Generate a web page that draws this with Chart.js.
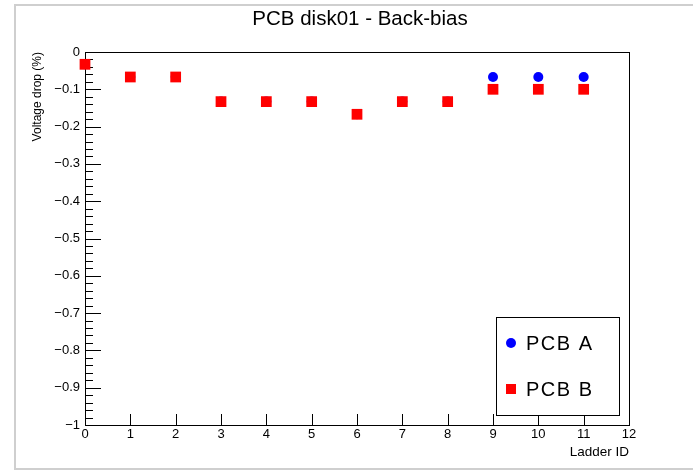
<!DOCTYPE html>
<html>
<head>
<meta charset="utf-8">
<script src="https://cdn.jsdelivr.net/npm/chart.js@4/dist/chart.umd.min.js"></script>
<style>
  body { margin: 0; background: #fff; }
  #wrap { width: 693px; height: 471px; }
</style>
</head>
<body>
<div id="wrap"><canvas id="graph" width="693" height="471"></canvas></div>
<script>
// ladder IDs and voltage drop (%) per PCB
var ladders = [0, 1, 2, 3, 4, 5, 6, 7, 8, 9, 10, 11];
var pcbA = [-0.033, -0.067, -0.067, -0.133, -0.133, -0.133, -0.167, -0.133, -0.133, -0.067, -0.067, -0.067];
var pcbB = [-0.033, -0.067, -0.067, -0.133, -0.133, -0.133, -0.167, -0.133, -0.133, -0.1, -0.1, -0.1];
var seriesNames = ["PCB A", "PCB B"];
var chartTitle = "PCB disk01 - Back-bias";

var FONT = "'Liberation Sans', Arial, Helvetica, sans-serif";

function toPoints(vals) {
  var pts = [];
  for (var i = 0; i < ladders.length; i++) {
    pts.push({ x: ladders[i], y: vals[i] });
  }
  return pts;
}

function fmtY(v) {
  var r = Math.round(v * 10) / 10;
  if (r === 0) return "0";
  var s = (Math.abs(r) === 1) ? "1" : Math.abs(r).toFixed(1);
  return (r < 0 ? "\u2212" : "") + s;
}

// ROOT-like pad: outer border, title, frame, inward ticks and legend box
var rootStyle = {
  id: "rootStyle",
  beforeDraw: function (chart) {
    var ctx = chart.ctx;
    ctx.save();
    ctx.strokeStyle = "#cfcfcf";
    ctx.lineWidth = 2;
    ctx.strokeRect(15, 5, 700, 464);
    ctx.fillStyle = "#000";
    ctx.font = "20.5px " + FONT;
    ctx.textAlign = "center";
    ctx.textBaseline = "middle";
    ctx.fillText(chartTitle, 360, 19.5);
    ctx.restore();
  },
  beforeDatasetsDraw: function (chart) {
    var ctx = chart.ctx;
    var a = chart.chartArea;
    var xs = chart.scales.x, ys = chart.scales.y;
    ctx.save();
    ctx.strokeStyle = "#000";
    ctx.lineWidth = 1;
    ctx.strokeRect(Math.round(a.left) + 0.5, Math.round(a.top) + 0.5,
      Math.round(a.right - a.left), Math.round(a.bottom - a.top));
    ctx.beginPath();
    // x major ticks
    for (var i = 0; i <= 12; i++) {
      var px = Math.round(xs.getPixelForValue(i)) + 0.5;
      ctx.moveTo(px, a.bottom);
      ctx.lineTo(px, a.bottom - 11);
    }
    // y major / minor ticks
    for (var k = 0; k <= 50; k++) {
      var v = -k * 0.02;
      var py = Math.round(ys.getPixelForValue(v)) + 0.5;
      var len = (k % 5 === 0) ? 16 : 8;
      ctx.moveTo(a.left, py);
      ctx.lineTo(a.left + len, py);
    }
    ctx.stroke();
    ctx.restore();
  },
  afterDraw: function (chart) {
    var ctx = chart.ctx;
    var ds = chart.data.datasets;
    ctx.save();
    ctx.fillStyle = "#fff";
    ctx.fillRect(496, 317, 123, 98);
    ctx.strokeStyle = "#000";
    ctx.lineWidth = 1;
    ctx.strokeRect(496.5, 317.5, 123, 98);
    ctx.font = "20px " + FONT;
    ctx.letterSpacing = "1.5px";
    ctx.textBaseline = "middle";
    var rows = [343, 389];
    for (var i = 0; i < seriesNames.length; i++) {
      var d = ds[i];
      var mx = 511, my = rows[i];
      ctx.fillStyle = d.backgroundColor;
      if (d.pointStyle === "rect") {
        ctx.fillRect(mx - 5, my - 5, 10, 10);
      } else {
        ctx.beginPath();
        ctx.arc(mx, my, 5, 0, Math.PI * 2);
        ctx.fill();
      }
      ctx.fillStyle = "#000";
      ctx.fillText(d.label, 526, my + 1);
    }
    ctx.restore();
  }
};

new Chart(document.getElementById("graph"), {
  type: "scatter",
  data: {
    datasets: [
      {
        label: seriesNames[0],
        data: toPoints(pcbA),
        pointStyle: "circle",
        pointRadius: 5,
        backgroundColor: "#0000ff",
        borderColor: "#0000ff",
        borderWidth: 0,
        order: 1,
        clip: false
      },
      {
        label: seriesNames[1],
        data: toPoints(pcbB),
        pointStyle: "rect",
        pointRadius: 7.6,
        backgroundColor: "#ff0000",
        borderColor: "#ff0000",
        borderWidth: 0,
        order: 0,
        clip: false
      }
    ]
  },
  options: {
    responsive: false,
    animation: false,
    events: [],
    layout: { padding: { left: 0, right: 64, top: 52, bottom: 0 } },
    plugins: {
      legend: { display: false },
      tooltip: { enabled: false },
      title: { display: false }
    },
    scales: {
      x: {
        type: "linear",
        min: 0,
        max: 12,
        grid: { display: false, drawTicks: false },
        border: { display: false },
        ticks: {
          stepSize: 1,
          autoSkip: false,
          maxRotation: 0,
          padding: 2,
          color: "#000",
          font: { family: FONT, size: 13 }
        },
        title: {
          display: true,
          text: "Ladder ID",
          align: "end",
          color: "#000",
          font: { family: FONT, size: 13.5, lineHeight: 1.2 },
          padding: { top: 0, bottom: 11 }
        },
        afterFit: function (s) { s.height = 46; }
      },
      y: {
        min: -1,
        max: 0,
        grid: { display: false, drawTicks: false },
        border: { display: false },
        ticks: {
          stepSize: 0.1,
          autoSkip: false,
          padding: 5,
          color: "#000",
          font: { family: FONT, size: 13 },
          callback: function (v) { return fmtY(v); }
        },
        title: {
          display: true,
          text: "Voltage drop (%)",
          align: "end",
          color: "#000",
          font: { family: FONT, size: 12, lineHeight: 1.2 },
          padding: { top: 30, bottom: 0 }
        },
        afterFit: function (s) { s.width = 85; }
      }
    }
  },
  plugins: [rootStyle]
});
</script>
</body>
</html>
